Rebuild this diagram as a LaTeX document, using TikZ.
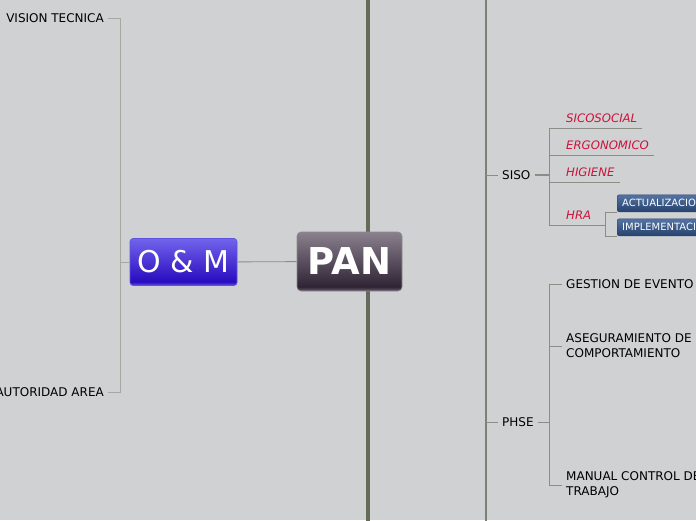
\documentclass[tikz,border=0pt]{standalone}
\usepackage{fontspec}
\setmainfont{DejaVu Sans}
\usetikzlibrary{positioning}

\definecolor{bgc}{RGB}{208,209,211}
\definecolor{trunkc}{RGB}{102,106,90}
\definecolor{branchc}{RGB}{125,127,120}
\definecolor{linkc}{RGB}{140,142,134}
\definecolor{faintc}{RGB}{168,168,162}
\definecolor{redtext}{RGB}{205,18,58}
\definecolor{pantop}{RGB}{138,128,142}
\definecolor{panbot}{RGB}{46,36,52}
\definecolor{panedge}{RGB}{105,95,110}
\definecolor{omtop}{RGB}{114,100,236}
\definecolor{ombot}{RGB}{40,12,190}
\definecolor{omedge}{RGB}{95,82,225}
\definecolor{hratop}{RGB}{84,116,164}
\definecolor{hrabot}{RGB}{38,66,110}

\pgfdeclareverticalshading{panshade}{100bp}{color(0bp)=(panedge); color(25bp)=(panedge); color(28.5bp)=(panbot); color(75bp)=(pantop); color(100bp)=(pantop)}
\pgfdeclareverticalshading{omshade}{100bp}{color(0bp)=(omedge); color(25bp)=(omedge); color(29bp)=(ombot); color(75bp)=(omtop); color(100bp)=(omtop)}
\pgfdeclareverticalshading{hrashade}{100bp}{color(0bp)=(hrabot); color(25bp)=(hrabot); color(75bp)=(hratop); color(100bp)=(hratop)}

\begin{document}
\begin{tikzpicture}[
    x=1pt, y=-1pt,
    central/.style={
        rectangle, rounded corners=4pt, draw=black!45, line width=0.6pt,
        shading=panshade, minimum width=105pt, minimum height=59pt,
        text=white, font=\fontsize{37}{37}\selectfont\bfseries
    },
    mainbox/.style={
        rectangle, rounded corners=3pt, draw=omedge, line width=0.6pt,
        shading=omshade, minimum width=107pt, minimum height=47pt,
        text=white, font=\fontsize{30}{30}\selectfont
    },
    topic/.style={
        inner xsep=4pt, inner ysep=2pt, align=left,
        font=\fontsize{12}{15}\selectfont
    },
    subtopic/.style={
        inner xsep=0pt, inner ysep=5pt, text depth=0pt, text=redtext,
        font=\fontsize{11.7}{14}\selectfont\itshape
    },
    tag/.style={
        rectangle, rounded corners=2pt, draw=hrabot, shading=hrashade,
        minimum height=17pt, inner xsep=5pt, inner ysep=0pt,
        text=white, font=\fontsize{10}{12}\selectfont
    },
    trunk/.style={draw=trunkc, line width=3.5pt},
    rail/.style={draw=branchc, line width=1.6pt},
    link/.style={draw=linkc, line width=0.9pt},
    faint/.style={draw=faintc, line width=0.9pt},
]

\clip (0,0) rectangle (696,520);
\fill[bgc] (0,0) rectangle (696,520);

% Trunk and rail
\coordinate (trunktop) at (368,-5);
\coordinate (trunkbot) at (368,525);
\coordinate (railtop) at (486,-5);
\coordinate (railbot) at (486,525);
\draw[trunk] (trunktop) -- (trunkbot);
\draw[rail] (railtop) -- (railbot);

% Central topic
\node[central] (pan) at (349.5,261.5) {PAN};
\node[mainbox] (om) at (183.5,262) {O \& M};
\draw[link] (om) -- (pan);

% ============ O & M branch (LEFT) ============
\node[topic, anchor=east] (vision) at (108,18) {VISION TECNICA};
\node[topic, anchor=east] (autoridad) at (108,392) {AUTORIDAD AREA};
\coordinate (omfork) at (120,262);
\draw[faint] (om.west) -- (omfork);
\draw[faint] (omfork) |- (vision.east);
\draw[faint] (omfork) |- (autoridad.east);

% ============ SISO branch ============
\node[topic, anchor=west] (siso) at (498,175) {SISO};
\coordinate (sisofork) at (549,175);
\draw[link] (siso.west -| railtop) -- (siso.west);
\draw[link, line width=1.4pt] (siso.east) -- (sisofork);

\node[subtopic, anchor=south west] (sicosocial) at (566,128) {SICOSOCIAL};
\node[subtopic, anchor=south west] (ergonomico) at (566,155) {ERGONOMICO};
\node[subtopic, anchor=south west] (higiene) at (566,182) {HIGIENE};
\node[subtopic, anchor=south west] (hra) at (566,225) {HRA};
\draw[link] (sisofork) |- ([xshift=5pt]sicosocial.south east);
\draw[link] (sisofork) |- ([xshift=5pt]ergonomico.south east);
\draw[link] (sisofork) |- ([xshift=5pt]higiene.south east);

% HRA sub-branch
\coordinate (hrafork) at (605,225);
\draw[link] (sisofork) |- (hrafork);
\node[tag, anchor=south west] (actualizacion) at (617,212) {ACTUALIZACION};
\node[tag, anchor=south west] (implementacion) at (617,236) {IMPLEMENTACION};
\draw[link] (hrafork) |- (actualizacion.south west);
\draw[link] (hrafork) |- (implementacion.south west);

% ============ PHSE branch ============
\node[topic, anchor=west] (phse) at (498,422) {PHSE};
\coordinate (phsefork) at (549,422);
\draw[link] (phse.west -| railtop) -- (phse.west);
\draw[link] (phse.east) -- (phsefork);

\node[topic, anchor=west] (gestion) at (562,284) {GESTION DE EVENTO};
\node[topic, anchor=west] (aseguramiento) at (562,346) {ASEGURAMIENTO DE\\COMPORTAMIENTO};
\node[topic, anchor=west] (manual) at (562,485) {MANUAL CONTROL DE\\TRABAJO};
\draw[link] (phsefork) |- (gestion.west);
\draw[link] (phsefork) |- (aseguramiento.west);
\draw[link] (phsefork) |- (manual.west);

\end{tikzpicture}
\end{document}
